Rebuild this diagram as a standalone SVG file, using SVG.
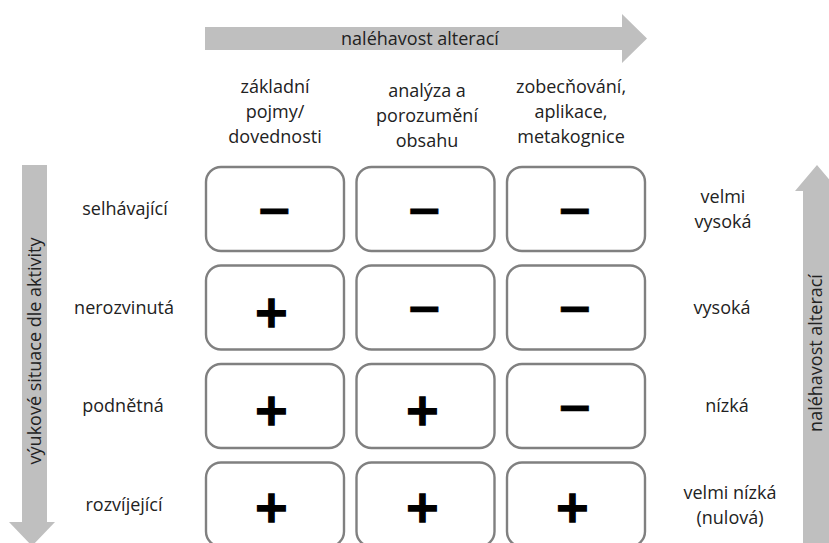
<svg xmlns="http://www.w3.org/2000/svg" width="829" height="543" viewBox="0 0 829 543">
  <style>
    .lbl { font-family: "Open Sans", "Noto Sans", "Liberation Sans", sans-serif; font-size: 18px; fill: #222; text-anchor: middle; }
    .cell { fill: #fff; stroke: #808080; stroke-width: 2.4; }
    .sign { font-family: "DejaVu Sans", "Liberation Sans", sans-serif; font-weight: bold; font-size: 44px; fill: #000; text-anchor: middle; stroke: #000; stroke-width: 0.6; }
    .plus { stroke-width: 1.5; }
    .band { fill: #bfbfbf; }
  </style>

  <!-- axis arrows -->
  <g id="connectors">
    <g id="arrow-top">
      <polygon class="band" points="205,27 622,27 622,14 647,38.5 622,63 622,50 205,50"/>
      <text class="lbl" x="420" y="45">naléhavost alterací</text>
    </g>
    <g id="arrow-left">
      <polygon class="band" points="22,165 47,165 47,522 55,522 32,546 9,522 22,522"/>
      <text class="lbl" transform="translate(41,351) rotate(-90)">výukové situace dle aktivity</text>
    </g>
    <g id="arrow-right">
      <polygon class="band" points="817,165 839,191 831,191 831,545 803,545 803,191 795,191"/>
      <text class="lbl" transform="translate(822,353) rotate(-90)">naléhavost alterací</text>
    </g>
  </g>

  <!-- column headers -->
  <g id="col-1">
    <text class="lbl" x="275" y="93">základní</text>
    <text class="lbl" x="275" y="118">pojmy/</text>
    <text class="lbl" x="275" y="143">dovednosti</text>
  </g>
  <g id="col-2">
    <text class="lbl" x="427" y="97">analýza a</text>
    <text class="lbl" x="427" y="122">porozumění</text>
    <text class="lbl" x="427" y="147">obsahu</text>
  </g>
  <g id="col-3">
    <text class="lbl" x="571" y="93">zobecňování,</text>
    <text class="lbl" x="571" y="118">aplikace,</text>
    <text class="lbl" x="571" y="143">metakognice</text>
  </g>

  <!-- row labels (left) -->
  <g id="row-1"><text class="lbl" x="125" y="215">selhávající</text></g>
  <g id="row-2"><text class="lbl" x="124" y="314">nerozvinutá</text></g>
  <g id="row-3"><text class="lbl" x="123" y="412">podnětná</text></g>
  <g id="row-4"><text class="lbl" x="124" y="511">rozvíjející</text></g>

  <!-- urgency labels (right) -->
  <g id="urgency-1">
    <text class="lbl" x="723" y="203">velmi</text>
    <text class="lbl" x="723" y="228">vysoká</text>
  </g>
  <g id="urgency-2"><text class="lbl" x="722" y="314">vysoká</text></g>
  <g id="urgency-3"><text class="lbl" x="727" y="412">nízká</text></g>
  <g id="urgency-4">
    <text class="lbl" x="730" y="499">velmi nízká</text>
    <text class="lbl" x="730" y="524">(nulová)</text>
  </g>

  <!-- matrix cells -->
  <g id="cell-1-1"><rect class="cell" x="206" y="167" width="138" height="84" rx="15"/><text class="sign" x="274.5" y="224.5">−</text></g>
  <g id="cell-1-2"><rect class="cell" x="356.5" y="167" width="138" height="84" rx="15"/><text class="sign" x="424.5" y="224.5">−</text></g>
  <g id="cell-1-3"><rect class="cell" x="507" y="167" width="138" height="84" rx="15"/><text class="sign" x="575" y="224.5">−</text></g>

  <g id="cell-2-1"><rect class="cell" x="206" y="265.5" width="138" height="84" rx="15"/><text class="sign plus" x="271.5" y="326.5">+</text></g>
  <g id="cell-2-2"><rect class="cell" x="356.5" y="265.5" width="138" height="84" rx="15"/><text class="sign" x="424.5" y="323">−</text></g>
  <g id="cell-2-3"><rect class="cell" x="507" y="265.5" width="138" height="84" rx="15"/><text class="sign" x="575" y="323">−</text></g>

  <g id="cell-3-1"><rect class="cell" x="206" y="364" width="138" height="84" rx="15"/><text class="sign plus" x="271.5" y="424.5">+</text></g>
  <g id="cell-3-2"><rect class="cell" x="356.5" y="364" width="138" height="84" rx="15"/><text class="sign plus" x="422.5" y="424.5">+</text></g>
  <g id="cell-3-3"><rect class="cell" x="507" y="364" width="138" height="84" rx="15"/><text class="sign" x="575" y="421.5">−</text></g>

  <g id="cell-4-1"><rect class="cell" x="206" y="462.5" width="138" height="84" rx="15"/><text class="sign plus" x="271.5" y="522">+</text></g>
  <g id="cell-4-2"><rect class="cell" x="356.5" y="462.5" width="138" height="84" rx="15"/><text class="sign plus" x="422.5" y="522">+</text></g>
  <g id="cell-4-3"><rect class="cell" x="507" y="462.5" width="138" height="84" rx="15"/><text class="sign plus" x="572.5" y="522">+</text></g>
</svg>
